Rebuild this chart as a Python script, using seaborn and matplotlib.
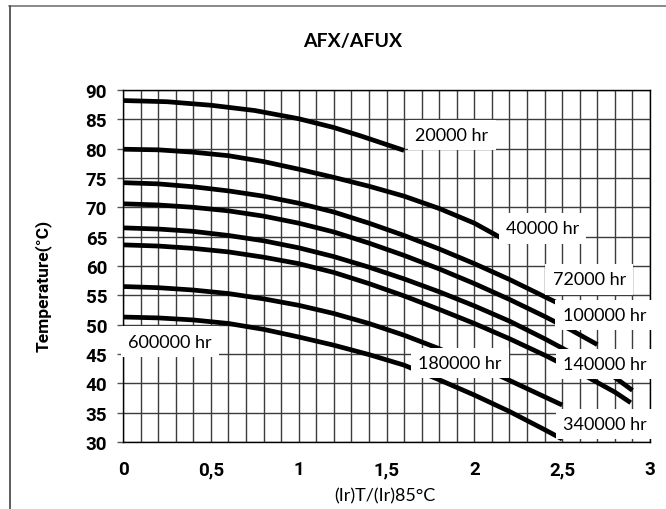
import matplotlib
matplotlib.use("Agg")
import matplotlib.pyplot as plt
from matplotlib import font_manager
from matplotlib.lines import Line2D
import pandas as pd
import seaborn as sns

# ----------------------------------------------------
# Data (one list pair per curve)
# ----------------------------------------------------
X_20000 = [0, 0.25, 0.5, 0.75, 1.0, 1.2, 1.35, 1.6]
Y_20000 = [88.2, 88.0, 87.4, 86.5, 85.1, 83.6, 82.2, 79.7]

X_40000 = [0, 0.2, 0.4, 0.6, 0.8, 1.0, 1.2, 1.4, 1.6, 1.8, 2.0, 2.2]
Y_40000 = [79.9, 79.8, 79.4, 78.8, 77.8, 76.5, 75.1, 73.6, 71.9, 69.8, 67.3, 64.0]

X_72000 = [0, 0.2, 0.4, 0.6, 0.8, 1.0, 1.2, 1.4, 1.6, 1.8, 2.0, 2.2, 2.48]
Y_72000 = [74.2, 74.0, 73.5, 72.8, 71.9, 70.7, 69.2, 67.3, 65.2, 62.9, 60.4, 57.7, 53.6]

X_100000 = [0, 0.2, 0.4, 0.6, 0.8, 1.0, 1.2, 1.4, 1.6, 1.8, 2.0, 2.2, 2.4, 2.55, 2.7]
Y_100000 = [70.6, 70.4, 70.0, 69.4, 68.5, 67.3, 65.8, 63.9, 61.8, 59.5, 57.0, 54.3, 51.4, 49.1, 46.6]

X_140000 = [0, 0.2, 0.4, 0.6, 0.8, 1.0, 1.2, 1.4, 1.6, 1.8, 2.0, 2.2, 2.4, 2.6, 2.8, 2.9]
Y_140000 = [66.5, 66.3, 65.9, 65.2, 64.3, 63.1, 61.6, 59.8, 57.8, 55.6, 53.2, 50.6, 47.6, 44.4, 41.0, 38.8]

X_180000 = [0, 0.2, 0.4, 0.6, 0.8, 1.0, 1.2, 1.4, 1.6, 1.8, 2.0, 2.2, 2.4, 2.6, 2.8, 2.89]
Y_180000 = [63.6, 63.4, 63.0, 62.4, 61.5, 60.4, 58.9, 57.0, 54.9, 52.6, 50.2, 47.6, 44.8, 41.8, 38.5, 36.7]

X_340000 = [0, 0.2, 0.4, 0.6, 0.8, 1.0, 1.2, 1.4, 1.6, 1.8, 2.0, 2.2, 2.4, 2.5]
Y_340000 = [56.5, 56.3, 55.9, 55.3, 54.4, 53.3, 51.9, 50.2, 48.2, 45.9, 43.3, 40.5, 37.7, 36.3]

X_600000 = [0, 0.2, 0.4, 0.6, 0.8, 1.0, 1.2, 1.4, 1.6, 1.8, 2.0, 2.2, 2.4, 2.5]
Y_600000 = [51.3, 51.15, 50.8, 50.2, 49.2, 47.9, 46.5, 44.9, 43.1, 40.6, 38.0, 35.2, 32.1, 30.5]

CURVES = [
    ("20000", X_20000, Y_20000),
    ("40000", X_40000, Y_40000),
    ("72000", X_72000, Y_72000),
    ("100000", X_100000, Y_100000),
    ("140000", X_140000, Y_140000),
    ("180000", X_180000, Y_180000),
    ("340000", X_340000, Y_340000),
    ("600000", X_600000, Y_600000),
]

# curve labels: text + left/middle anchor in data coords
LABEL_TEXT = ["20000 hr", "40000 hr", "72000 hr", "100000 hr",
              "140000 hr", "180000 hr", "340000 hr", "600000 hr"]
LABEL_X = [1.665, 2.18, 2.446, 2.503, 2.505, 1.68, 2.505, 0.03]
LABEL_Y = [82.3, 66.4, 57.7, 51.6, 43.3, 43.5, 33.1, 47.1]

X_TICKS = [0, 0.5, 1, 1.5, 2, 2.5, 3]
X_TICK_LABELS = ["0", "0,5", "1", "1,5", "2", "2,5", "3"]
Y_TICKS = [30, 35, 40, 45, 50, 55, 60, 65, 70, 75, 80, 85, 90]


def pick_font(candidates, fallback="DejaVu Sans"):
    names = {f.name for f in font_manager.fontManager.ttflist}
    for c in candidates:
        if c in names:
            return c
    return fallback


def main():
    sns.set_theme(style="white")

    body = pick_font(["Lato", "Open Sans", "Noto Sans"])
    axis_font = pick_font(["Roboto", "Liberation Sans"])
    plt.rcParams["font.family"] = [body, "DejaVu Sans"]

    # long-form table for seaborn
    rows = []
    for name, xs, ys in CURVES:
        for x, y in zip(xs, ys):
            rows.append({"curve": name, "x": x, "y": y})
    df = pd.DataFrame(rows)

    fig = plt.figure(figsize=(6.66, 5.10), dpi=100)
    ax = fig.add_axes([0.1847, 0.1314, 0.7913, 0.6902])

    sns.lineplot(
        data=df, x="x", y="y", hue="curve", units="curve",
        estimator=None, palette=["black"] * len(CURVES),
        linewidth=3.4, legend=False, ax=ax, zorder=3,
    )
    for ln in ax.get_lines():
        ln.set_solid_capstyle("butt")
        ln.set_solid_joinstyle("round")

    ax.set_xlim(0, 3)
    ax.set_ylim(30, 90)

    tick_font = dict(family=[axis_font, "DejaVu Sans"], weight="bold")

    # grid: every 0.1 on x, every 5 on y
    ax.set_xticks([i / 10 for i in range(31)], minor=True)
    ax.set_xticks(X_TICKS)
    ax.set_xticklabels(X_TICK_LABELS, fontdict=tick_font, fontsize=13.5)
    ax.set_yticks(Y_TICKS)
    ax.set_yticklabels([str(v) for v in Y_TICKS], fontdict=tick_font, fontsize=13.5)
    ax.grid(True, which="both", color="#3c3c3c", linewidth=1.0)
    ax.set_axisbelow(True)

    ax.tick_params(axis="x", which="both", length=0, pad=13, colors="black")
    ax.tick_params(axis="y", which="major", length=4.5, width=1.0,
                   color="#555555", labelcolor="black", pad=7, left=True)
    for sp in ax.spines.values():
        sp.set_color("black")
        sp.set_linewidth(1.0)

    ax.set_xlabel("(Ir)T/(Ir)85°C", fontsize=13, color="black")
    ax.xaxis.set_label_coords(0.497, -0.13)
    ax.set_ylabel("Temperature(°C)", fontdict=tick_font, fontsize=12.5,
                  color="black")
    ax.yaxis.set_label_coords(-0.135, 0.446)

    for txt, x, y in zip(LABEL_TEXT, LABEL_X, LABEL_Y):
        ax.text(x, y, txt, ha="left", va="center", fontsize=13, color="black",
                zorder=5,
                bbox=dict(boxstyle="square,pad=0.4", facecolor="white",
                          edgecolor="none"))

    fig.text(0.530, 0.918, "AFX/AFUX", ha="center", va="center",
             fontsize=14, fontweight="bold", color="black")

    # outer frame (top and left only)
    fig.add_artist(Line2D([9 / 666, 1], [1 - 6.5 / 510] * 2,
                          transform=fig.transFigure, color="#808080", lw=1.3))
    fig.add_artist(Line2D([9.5 / 666] * 2, [0, 1 - 6.5 / 510],
                          transform=fig.transFigure, color="#505050", lw=1.3))

    fig.savefig("out.png", dpi=100)
    plt.close(fig)


if __name__ == "__main__":
    main()
